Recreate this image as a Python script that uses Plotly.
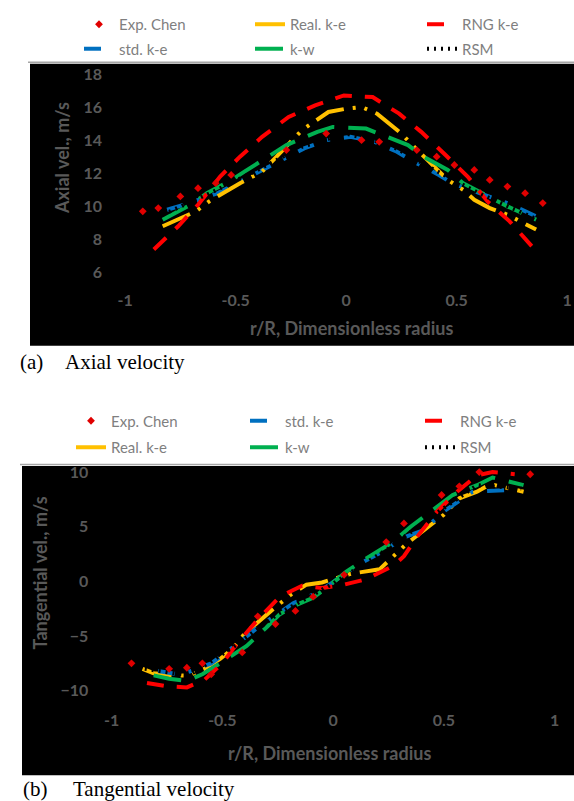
import plotly.graph_objects as go

# ---------------- data: (a) axial velocity ----------------
exp_a_x = [-0.92, -0.85, -0.75, -0.67, -0.59, -0.52, -0.27, -0.09, 0.07, 0.15, 0.32, 0.41, 0.49, 0.58, 0.65, 0.73, 0.81, 0.89]
exp_a_y = [9.7, 9.9, 10.6, 11.1, 11.4, 11.9, 13.4, 14.4, 14.0, 13.9, 13.4, 13.0, 12.5, 12.2, 11.6, 11.2, 10.8, 10.2]

std_a_x = [-0.81, -0.71, -0.58, -0.48, -0.36, -0.29, -0.19, -0.09, 0.02, 0.13, 0.23, 0.32, 0.42, 0.48, 0.62, 0.73, 0.86]
std_a_y = [9.8, 10.2, 10.8, 11.5, 12.3, 12.8, 13.5, 14.0, 14.2, 13.9, 13.3, 12.6, 11.9, 11.4, 10.7, 10.2, 9.4]

real_a_x = [-0.83, -0.68, -0.62, -0.48, -0.38, -0.31, -0.20, -0.08, 0.00, 0.07, 0.14, 0.25, 0.30, 0.46, 0.53, 0.58, 0.65, 0.73, 0.86]
real_a_y = [8.8, 9.7, 10.3, 11.4, 12.1, 13.1, 14.6, 15.7, 15.9, 16.0, 15.6, 14.4, 13.7, 11.6, 11.0, 10.4, 9.9, 9.5, 8.6]

kw_a_x = [-0.83, -0.69, -0.63, -0.53, -0.46, -0.33, -0.27, -0.13, -0.06, 0.09, 0.15, 0.28, 0.35, 0.46, 0.53, 0.66, 0.73, 0.86]
kw_a_y = [9.2, 10.2, 10.8, 11.5, 12.1, 13.2, 13.7, 14.5, 14.8, 14.7, 14.4, 13.7, 13.0, 12.2, 11.4, 10.5, 10.0, 9.2]

rng_a_x = [-0.87, -0.76, -0.67, -0.57, -0.48, -0.38, -0.26, -0.14, -0.01, 0.12, 0.24, 0.34, 0.45, 0.55, 0.64, 0.74, 0.84]
rng_a_y = [7.4, 8.8, 10.1, 11.8, 13.0, 14.2, 15.4, 16.1, 16.7, 16.6, 15.6, 14.5, 13.1, 11.8, 10.3, 9.1, 7.6]

rsm_a_x = [-0.83, -0.6, -0.4, -0.2, 0.0, 0.2, 0.4, 0.6, 0.85]
rsm_a_y = [9.5, 10.9, 12.2, 13.6, 14.4, 13.7, 12.2, 10.8, 9.3]

# ---------------- data: (b) tangential velocity ----------------
exp_b_x = [-0.91, -0.74, -0.66, -0.59, -0.55, -0.41, -0.34, -0.26, -0.17, -0.09, 0.05, 0.24, 0.32, 0.49, 0.57, 0.66, 0.89]
exp_b_y = [-7.5, -8.0, -7.9, -7.5, -8.5, -6.5, -3.2, -3.9, -2.7, -1.4, 0.6, 3.6, 5.3, 7.9, 8.7, 10.0, 9.8]

std_b_x = [-0.79, -0.70, -0.64, -0.55, -0.45, -0.36, -0.32, -0.25, -0.18, -0.12, -0.06, 0.12, 0.22, 0.33, 0.41, 0.50, 0.59, 0.63, 0.83]
std_b_y = [-8.2, -8.5, -8.2, -7.5, -6.0, -4.5, -3.9, -3.0, -2.0, -1.5, -0.9, 1.6, 2.7, 4.1, 4.7, 6.4, 7.7, 8.2, 8.4]

real_b_x = [-0.86, -0.81, -0.72, -0.65, -0.58, -0.51, -0.45, -0.40, -0.28, -0.19, -0.12, -0.05, 0.08, 0.21, 0.33, 0.42, 0.50, 0.57, 0.65, 0.71, 0.86]
real_b_y = [-8.0, -8.4, -8.6, -8.6, -8.0, -7.1, -6.1, -4.8, -2.7, -1.2, -0.3, -0.1, 0.7, 1.1, 3.4, 4.8, 6.1, 7.6, 8.2, 8.9, 8.2]

kw_b_x = [-0.81, -0.74, -0.66, -0.59, -0.51, -0.39, -0.30, -0.24, -0.16, -0.09, -0.03, 0.06, 0.15, 0.27, 0.35, 0.45, 0.54, 0.65, 0.72, 0.86]
kw_b_y = [-8.6, -8.9, -9.1, -8.5, -7.5, -5.9, -4.2, -3.0, -2.1, -1.5, -0.6, 0.9, 2.1, 3.6, 5.0, 6.5, 7.9, 8.8, 9.5, 8.8]

rng_b_x = [-0.84, -0.75, -0.66, -0.58, -0.50, -0.43, -0.34, -0.24, -0.14, -0.05, 0.05, 0.15, 0.27, 0.32, 0.38, 0.47, 0.56, 0.65, 0.72, 0.82]
rng_b_y = [-9.3, -9.6, -9.7, -9.0, -7.5, -5.6, -3.5, -1.4, -0.4, -0.6, -0.3, 0.2, 1.4, 2.3, 4.1, 6.4, 8.2, 9.7, 10.0, 9.8]

rsm_b_x = [-0.85, -0.65, -0.45, -0.25, 0.0, 0.25, 0.45, 0.65, 0.85]
rsm_b_y = [-8.0, -8.6, -6.0, -3.0, -0.2, 3.0, 6.0, 8.8, 8.5]

# ---------------- figure ----------------
W, H = 574, 801
def px(v):  # pixel-from-top -> paper fraction
    return 1 - v / H

C_EXP, C_STD, C_REAL, C_KW, C_RNG, C_RSM = "#e00000", "#0070c0", "#ffc000", "#00b050", "#ff0000", "#000000"
DASH = {
    "std": "17px,14px,3px,14px",
    "real": "30px,9px,3px,9px,3px,9px",
    "kw": "28px,14px",
    "rng": "17px,13px",
    "rsm": "2px,5px",
}
LW = 4

fig = go.Figure()

# (name, x, y, dash key, colour, legend id, rank)
panel_a = [
    ("Exp. Chen", exp_a_x, exp_a_y, None, C_EXP, "legend", 1),
    ("std. k-e", std_a_x, std_a_y, "std", C_STD, "legend", 2),
    ("Real. k-e", real_a_x, real_a_y, "real", C_REAL, "legend2", 1),
    ("k-w", kw_a_x, kw_a_y, "kw", C_KW, "legend2", 2),
    ("RNG k-e", rng_a_x, rng_a_y, "rng", C_RNG, "legend3", 1),
    ("RSM", rsm_a_x, rsm_a_y, "rsm", C_RSM, "legend3", 2),
]
panel_b = [
    ("Exp. Chen", exp_b_x, exp_b_y, None, C_EXP, "legend4", 1),
    ("Real. k-e", real_b_x, real_b_y, "real", C_REAL, "legend4", 2),
    ("std. k-e", std_b_x, std_b_y, "std", C_STD, "legend5", 1),
    ("k-w", kw_b_x, kw_b_y, "kw", C_KW, "legend5", 2),
    ("RNG k-e", rng_b_x, rng_b_y, "rng", C_RNG, "legend6", 1),
    ("RSM", rsm_b_x, rsm_b_y, "rsm", C_RSM, "legend6", 2),
]

for tag, panel, xa, ya in [("a", panel_a, "x", "y"), ("b", panel_b, "x2", "y2")]:
    order = [p for p in panel if p[3] is not None] + [p for p in panel if p[3] is None]
    for name, xs, ys, dk, col, leg, rank in order:
        common = dict(x=xs, y=ys, name=name, xaxis=xa, yaxis=ya, legend=leg,
                      legendrank=rank, legendgroup=tag + name)
        if dk is None:
            fig.add_trace(go.Scatter(mode="markers",
                                     marker=dict(symbol="diamond", size=6, color=col), **common))
        else:
            fig.add_trace(go.Scatter(mode="lines",
                                     line=dict(color=col, width=LW, dash=DASH[dk]), **common))

tickfont = dict(family="Lato", size=16, color="#595959", weight="bold")
axis_common = dict(showgrid=False, zeroline=False, showline=False, ticks="",
                   tickfont=tickfont)

def legend_at(x_text, y_top, gap):
    return dict(orientation="v", bgcolor="rgba(0,0,0,0)",
                font=dict(family="Lato", size=15, color="#7f7f7f"),
                traceorder="grouped", tracegroupgap=gap,
                x=(x_text - 40) / W, y=px(y_top), xanchor="left", yanchor="top")

fig.update_layout(
    width=W, height=H, autosize=False, margin=dict(l=0, r=0, t=0, b=0),
    paper_bgcolor="white", plot_bgcolor="black", showlegend=True,
    xaxis=dict(domain=[103 / W, 571.5 / W], range=[-1.1, 1.02], anchor="y",
               tickvals=[-1, -0.5, 0, 0.5, 1], ticktext=["-1", "-0.5", "0", "0.5", "1"], **axis_common),
    yaxis=dict(domain=[px(286), px(61)], range=[5, 18.5], anchor="x",
               tickvals=[6, 8, 10, 12, 14, 16, 18], **axis_common),
    xaxis2=dict(domain=[89.4 / W, 572.3 / W], range=[-1.1, 1.08], anchor="y2",
                tickvals=[-1, -0.5, 0, 0.5, 1], ticktext=["-1", "-0.5", "0", "0.5", "1"], **axis_common),
    yaxis2=dict(domain=[px(708.7), px(464.5)], range=[-11.7, 10.5], anchor="x2",
                tickvals=[-10, -5, 0, 5, 10], **axis_common),
    legend=legend_at(119, 3, 2),
    legend2=legend_at(290, 3, 2),
    legend3=legend_at(462, 3, 2),
    legend4=legend_at(111, 402, 4),
    legend5=legend_at(285, 402, 4),
    legend6=legend_at(460, 402, 4),
    shapes=[
        dict(type="rect", xref="paper", yref="paper", x0=30 / W, x1=1, y0=px(343), y1=px(59),
             fillcolor="black", line=dict(width=0), layer="below"),
        dict(type="rect", xref="paper", yref="paper", x0=22 / W, x1=1, y0=px(775), y1=px(464),
             fillcolor="black", line=dict(width=0), layer="below"),
        dict(type="line", xref="paper", yref="paper", x0=28 / W, x1=1, y0=px(57.5), y1=px(57.5),
             line=dict(color="#a6a6a6", width=1.5)),
        dict(type="line", xref="paper", yref="paper", x0=20 / W, x1=1, y0=px(462.5), y1=px(462.5),
             line=dict(color="#a6a6a6", width=1.5)),
    ],
)

title_font = dict(family="Lato", size=18, color="#595959", weight="bold")
cap_font = dict(family="Liberation Serif", size=21, color="black")
ann = [
    dict(text="r/R, Dimensionless radius", x=351 / W, y=px(325), font=title_font),
    dict(text="Axial vel., m/s", x=62 / W, y=px(154), textangle=-90, font=title_font),
    dict(text="r/R, Dimensionless radius", x=329 / W, y=px(753), font=title_font),
    dict(text="Tangential vel., m/s", x=40 / W, y=px(572), textangle=-90, font=title_font),
    dict(text="(a)", x=18 / W, y=px(359), xanchor="left", font=cap_font),
    dict(text="Axial velocity", x=63 / W, y=px(359), xanchor="left", font=cap_font),
    dict(text="(b)", x=21 / W, y=px(789), xanchor="left", font=cap_font),
    dict(text="Tangential velocity", x=71 / W, y=px(789), xanchor="left", font=cap_font),
]
for a in ann:
    a.setdefault("xanchor", "center")
    fig.add_annotation(xref="paper", yref="paper", showarrow=False, yanchor="middle", **a)

fig.write_html(
    "out.html",
    config={"responsive": False, "displayModeBar": False},
    post_script="document.body.style.margin='0';document.body.style.overflow='hidden';",
)
